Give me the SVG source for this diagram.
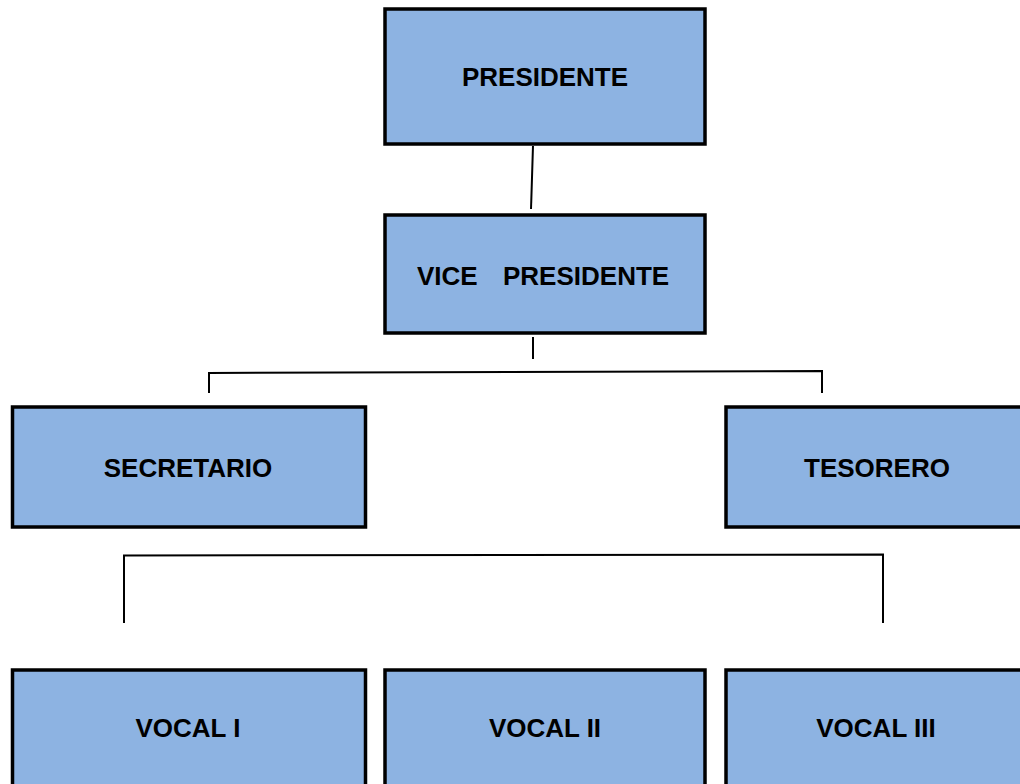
<svg xmlns="http://www.w3.org/2000/svg" width="1020" height="784" viewBox="0 0 1020 784">
<style>
.box{fill:#8DB3E2;stroke:#000;stroke-width:3.5}
.lbl{font-family:"Liberation Sans",Arial,sans-serif;font-weight:bold;font-size:26px;fill:#000;text-anchor:middle}
.c{stroke:#000;stroke-width:2;fill:none}
</style>
<rect x="0" y="0" width="1020" height="784" fill="#fff"/>
<g id="connectors">
<line class="c" x1="533" y1="146" x2="531" y2="209"/>
<line class="c" x1="533" y1="337" x2="533" y2="359"/>
<polyline class="c" points="209,393 209,373 822,371 822,393"/>
<polyline class="c" points="124,623 124,555.5 883,554.5 883,623"/>
</g>
<g id="presidente">
<rect class="box" x="385" y="9" width="320" height="135"/>
<text class="lbl" x="545" y="86">PRESIDENTE</text>
</g>
<g id="vicepresidente">
<rect class="box" x="385" y="215" width="320" height="118"/>
<text class="lbl" style="text-anchor:start" y="285"><tspan x="417">VICE</tspan><tspan x="503">PRESIDENTE</tspan></text>
</g>
<g id="secretario">
<rect class="box" x="12.5" y="407" width="353" height="120"/>
<text class="lbl" x="188" y="477">SECRETARIO</text>
</g>
<g id="tesorero">
<rect class="box" x="726" y="407" width="300" height="120"/>
<text class="lbl" x="877" y="477">TESORERO</text>
</g>
<g id="vocal1">
<rect class="box" x="12.5" y="670" width="353" height="130"/>
<text class="lbl" x="188" y="737">VOCAL I</text>
</g>
<g id="vocal2">
<rect class="box" x="385" y="670" width="320" height="130"/>
<text class="lbl" x="545" y="737">VOCAL II</text>
</g>
<g id="vocal3">
<rect class="box" x="726" y="670" width="300" height="130"/>
<text class="lbl" x="876" y="737">VOCAL III</text>
</g>
</svg>
